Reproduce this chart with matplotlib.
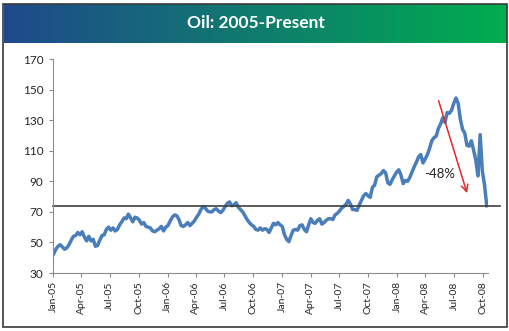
import numpy as np
import pandas as pd
import matplotlib
matplotlib.use("Agg")
import matplotlib.pyplot as plt
import matplotlib.dates as mdates
from matplotlib.patches import Rectangle

plt.rcParams['font.family'] = ['Lato', 'DejaVu Sans']

# weekly WTI prices (Mondays)
OIL_2005 = [42.5, 45.5, 47.5, 48.5, 47.0, 45.5, 46.5, 48.5, 51.5, 54.0, 54.5, 56.5, 55.0,
            57.0, 53.5, 51.0, 54.0, 51.0, 52.0, 47.5, 48.0, 51.5, 54.5, 55.0, 58.5, 60.0,
            58.0, 59.5, 57.5, 58.5, 61.5, 63.5, 66.0, 65.5, 68.5, 66.0, 63.5, 66.5, 66.0,
            64.5, 62.0, 63.0, 60.5, 60.0, 59.5, 57.5, 57.0, 58.0, 59.0, 60.5, 57.5, 60.0]
OIL_2006 = [61.0, 64.0, 66.5, 68.0, 67.5, 65.0, 61.0, 60.5, 61.5, 63.0, 61.0, 62.5, 64.0,
            66.5, 68.5, 71.5, 73.5, 72.5, 70.5, 70.0, 70.0, 71.5, 72.0, 70.5, 69.5, 71.0,
            73.5, 75.5, 76.5, 74.0, 74.5, 76.0, 73.0, 71.5, 70.0, 67.5, 65.0, 63.0, 61.5,
            60.5, 58.5, 58.0, 59.5, 58.0, 59.0, 58.5, 56.5, 59.5, 62.5, 61.5, 63.0, 61.5]
OIL_2007 = [60.5, 55.0, 52.0, 50.5, 54.5, 58.0, 58.5, 58.0, 61.0, 61.5, 58.5, 57.0, 61.5,
            65.5, 63.0, 62.5, 64.5, 65.5, 62.0, 63.0, 64.5, 65.5, 65.5, 65.0, 68.0, 69.0,
            70.5, 72.5, 73.5, 75.0, 77.5, 75.0, 71.5, 71.5, 71.0, 74.5, 77.5, 80.5, 82.0,
            80.5, 79.5, 86.0, 87.5, 93.0, 94.0, 95.0, 97.0, 95.5, 89.0, 88.0, 91.0, 93.5, 96.0]
OIL_2008 = [97.5, 94.0, 88.5, 90.5, 90.0, 92.5, 96.0, 99.5, 102.5, 106.0, 107.5, 102.0, 104.5,
            107.5, 111.5, 116.5, 118.5, 119.5, 124.5, 127.5, 131.5, 128.5, 135.0, 134.5, 136.5,
            141.0, 144.5, 141.0, 130.5, 124.0, 121.5, 113.5, 113.0, 116.5, 110.5, 104.0, 93.5,
            120.5, 96.5, 87.5, 74.0]

prices = OIL_2005 + OIL_2006 + OIL_2007 + OIL_2008
dates = pd.date_range("2005-01-03", periods=len(prices), freq="7D")

LEVEL = 74
ARROW_START = (pd.Timestamp("2008-05-10"), 144.5)
ARROW_END = (pd.Timestamp("2008-08-14"), 80.5)
LABEL_POS = (pd.Timestamp("2008-05-16"), 95)

fig = plt.figure(figsize=(5.1, 3.31), dpi=100)

# header band with blue -> green gradient
hdr = fig.add_axes([4 / 510, (331 - 43) / 331, 503 / 510, 39 / 331])
left = np.array([0.12, 0.29, 0.55])
right = np.array([0.0, 0.68, 0.31])
t = np.linspace(0, 1, 256)[None, :, None]
hdr.imshow(left + (right - left) * t, aspect="auto", extent=[0, 1, 0, 1])
hdr.set_axis_off()
hdr.text(0.5, 0.5, "Oil: 2005-Present", color="white", fontsize=12.5, fontweight="bold",
         ha="center", va="center")

fig.patches.append(Rectangle((3 / 510, 4 / 331), 504 / 510, 323 / 331, transform=fig.transFigure,
                             fill=False, edgecolor="#3a3a3a", lw=1.2))

ax = fig.add_axes([53 / 510, 58 / 331, 435 / 510, 214 / 331])
ax.plot(dates, prices, color="#4a7ebb", lw=2.5, solid_joinstyle="round")
ax.axhline(LEVEL, xmin=0, xmax=1.028, color="#3f3f3f", lw=1.2, clip_on=False)

ax.annotate("", xy=ARROW_END, xytext=ARROW_START,
            arrowprops=dict(arrowstyle="->", color="#e8262a", lw=1.1, mutation_scale=12))
ax.text(LABEL_POS[0], LABEL_POS[1], "-48%", fontsize=9.5, ha="center", va="center", color="#222222")

ax.set_ylim(30, 170)
ax.set_yticks(range(30, 171, 20))
ax.set_xlim(pd.Timestamp("2005-01-01"), pd.Timestamp("2008-10-17"))
ax.xaxis.set_major_locator(mdates.MonthLocator(bymonth=[1, 4, 7, 10]))
ax.xaxis.set_major_formatter(mdates.DateFormatter("%b-%y"))
plt.setp(ax.get_xticklabels(), rotation=90)

for s in ["top", "right"]:
    ax.spines[s].set_visible(False)
for s in ["left", "bottom"]:
    ax.spines[s].set_color("#8c8c8c")
ax.tick_params(axis="both", direction="out", length=3, color="#8c8c8c", labelcolor="#262626")
ax.tick_params(axis="y", labelsize=8.5, pad=4)
ax.tick_params(axis="x", labelsize=7.5, pad=3)

fig.savefig("out.png", dpi=100)
